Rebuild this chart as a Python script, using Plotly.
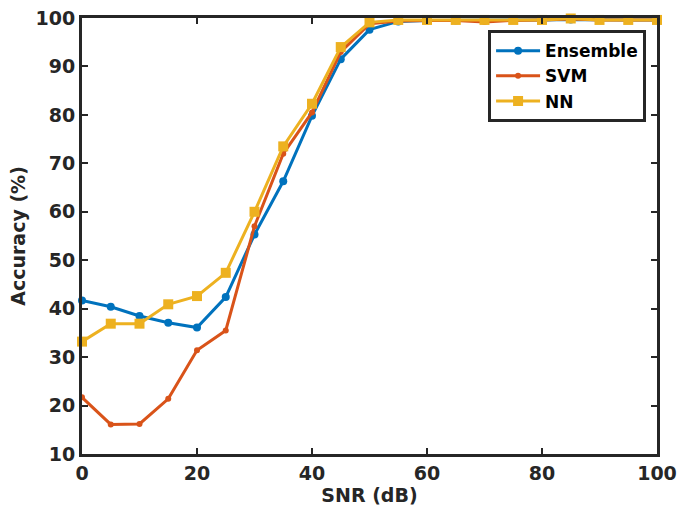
import plotly.graph_objects as go

# SNR values (dB)
snr = [0, 5, 10, 15, 20, 25, 30, 35, 40, 45, 50, 55, 60, 65, 70, 75, 80, 85, 90, 95, 100]

# accuracy (%) for each classifier
ensemble = [41.7, 40.4, 38.5, 37.1, 36.1, 42.4, 55.3, 66.3, 79.8, 91.5, 97.6, 99.3, 99.5,
            99.5, 99.5, 99.6, 99.6, 99.7, 99.6, 99.6, 99.6]
svm = [21.7, 16.1, 16.2, 21.4, 31.4, 35.5, 57.0, 72.0, 80.5, 93.0, 98.8, 99.4, 99.5,
       99.5, 99.2, 99.5, 99.6, 99.8, 99.6, 99.6, 99.6]
nn = [33.2, 36.9, 36.9, 40.9, 42.6, 47.4, 60.0, 73.5, 82.3, 94.0, 99.1, 99.6, 99.6,
      99.6, 99.6, 99.6, 99.6, 99.9, 99.6, 99.6, 99.6]

AXIS_COLOR = '#262626'
FONT = 'DejaVu Sans'

fig = go.Figure()

fig.add_trace(go.Scatter(x=snr, y=ensemble, name='Ensemble', mode='lines+markers',
                         line=dict(color='#0072BD', width=3),
                         marker=dict(symbol='circle', size=8, color='#0072BD'),
                         cliponaxis=False))
fig.add_trace(go.Scatter(x=snr, y=svm, name='SVM', mode='lines+markers',
                         line=dict(color='#D95319', width=3),
                         marker=dict(symbol='circle', size=6, color='#D95319'),
                         cliponaxis=False))
fig.add_trace(go.Scatter(x=snr, y=nn, name='NN', mode='lines+markers',
                         line=dict(color='#EDB120', width=3),
                         marker=dict(symbol='square', size=10, color='#EDB120'),
                         cliponaxis=False))

tick_font = dict(family=FONT, size=19, color=AXIS_COLOR, weight='bold')

axis_style = dict(
    showgrid=False, zeroline=False, automargin=False,
    showline=True, linewidth=3, linecolor=AXIS_COLOR, mirror='ticks',
    ticks='inside', ticklen=6, tickwidth=2, tickcolor=AXIS_COLOR,
    tickfont=tick_font, ticklabeloverflow='allow',
)

fig.update_layout(
    width=678, height=508,
    margin=dict(l=82, r=21, t=18, b=54),
    paper_bgcolor='white', plot_bgcolor='white',
    font=dict(family=FONT, color=AXIS_COLOR),
    xaxis=dict(range=[0, 100], tickvals=[0, 20, 40, 60, 80, 100],
               title=dict(text='SNR (dB)', standoff=2, font=tick_font),
               **axis_style),
    yaxis=dict(range=[10, 100], tickvals=list(range(10, 101, 10)),
               title=dict(text='Accuracy (%)', standoff=5, font=tick_font),
               **axis_style),
    legend=dict(x=0.981, y=0.972, xanchor='right', yanchor='top',
                bgcolor='white', bordercolor=AXIS_COLOR, borderwidth=3,
                font=dict(family=FONT, size=17, color='black', weight='bold'),
                tracegroupgap=0, itemwidth=44),
    showlegend=True,
)

# drop the default body margin so the figure fills the window exactly
fig.write_html("out.html", config={'displayModeBar': False},
               post_script="document.body.style.margin='0';document.body.style.overflow='hidden';")
